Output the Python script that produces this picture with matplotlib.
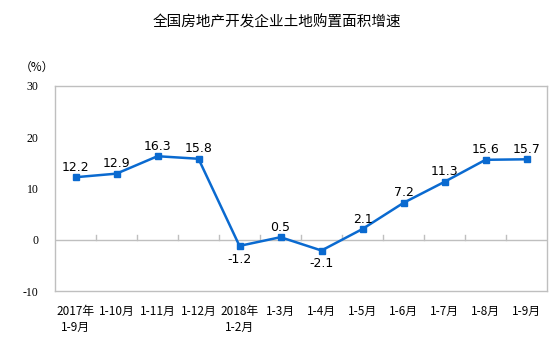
import numpy as np
import matplotlib.pyplot as plt

plt.rcParams['font.family'] = ['Noto Sans CJK SC', 'DejaVu Sans']

# data
months = ['2017年\n1-9月', '1-10月', '1-11月', '1-12月', '2018年\n1-2月', '1-3月',
          '1-4月', '1-5月', '1-6月', '1-7月', '1-8月', '1-9月']
growth = [12.2, 12.9, 16.3, 15.8, -1.2, 0.5, -2.1, 2.1, 7.2, 11.3, 15.6, 15.7]
label_below = [-1.2, -2.1]

BLUE = '#0a6ad0'
GREY = '#bfbfbf'

fig = plt.figure(figsize=(5.54, 3.38), dpi=100)
ax = fig.add_axes([55 / 554, 1 - 291 / 338, 492 / 554, 205 / 338])

x = np.arange(len(months))
ax.plot(x, growth, color=BLUE, lw=1.8, marker='s', ms=5, zorder=3)

for xi, v in zip(x, growth):
    if v in label_below:
        ax.annotate(f'{v}', (xi, v), xytext=(0, -5), textcoords='offset points',
                    ha='center', va='top', fontsize=9, family='DejaVu Sans')
    else:
        ax.annotate(f'{v}', (xi, v), xytext=(0, 2.5), textcoords='offset points',
                    ha='center', va='bottom', fontsize=9, family='DejaVu Sans')

ax.set_xlim(-0.5, len(months) - 0.5)
ax.set_ylim(-10, 30)
ax.set_yticks([-10, 0, 10, 20, 30])
ax.set_yticklabels(['-10', '0', '10', '20', '30'], fontsize=8.5, family='Liberation Serif')
ax.tick_params(axis='y', length=0, pad=12)

# category labels under the box, boundary ticks on the zero line
ax.set_xticks(x)
ax.set_xticklabels(months, fontsize=8.5, linespacing=1.3, va='top')
ax.tick_params(axis='x', length=0, pad=10)
ax.axhline(0, color=GREY, lw=1, zorder=1)
for b in np.arange(0.5, len(months) - 0.5):
    ax.plot([b, b], [0, 0.9], color=GREY, lw=1, zorder=1)

for s in ax.spines.values():
    s.set_color(GREY)
    s.set_linewidth(1)

fig.text(0.5, 1 - 22 / 338, '全国房地产开发企业土地购置面积增速', ha='center', va='center', fontsize=10.5)
fig.text(20 / 554, 1 - 67 / 338, '（%）', ha='left', va='center', fontsize=8.5)

fig.savefig('out.png', dpi=100)
